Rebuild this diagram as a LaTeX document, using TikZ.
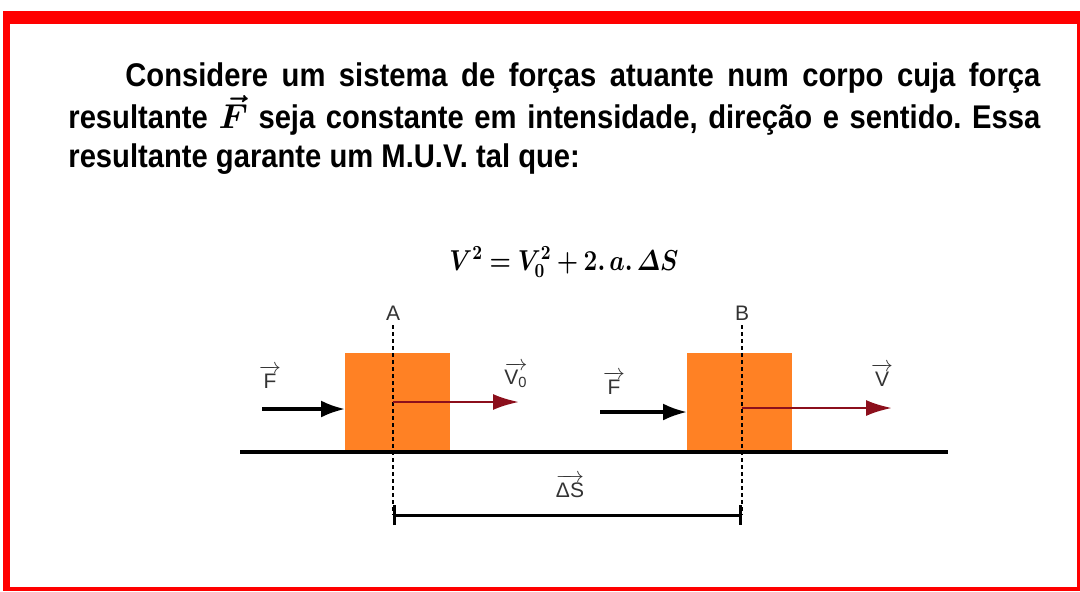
\documentclass[tikz,border=0pt]{standalone}
\usepackage{amsmath}
\usepackage{bm}
\usepackage[no-math]{fontspec}
\setmainfont{Liberation Sans}
\newfontfamily\bodyfont[FakeStretch=0.89]{Liberation Sans}
\usetikzlibrary{arrows.meta,positioning}
\definecolor{blockorange}{HTML}{FF8124}
\definecolor{velred}{HTML}{8C0F1C}
\newcommand{\eqsize}{\fontsize{14}{17}\selectfont}
\newcommand{\bodysize}{\fontsize{16.4}{19.5}\selectfont}
\newcommand{\lblsize}{\fontsize{10.5}{12}\selectfont}

\begin{document}
\frenchspacing
\begin{tikzpicture}[x=0.5pt,y=-0.5pt,
  lbl/.style={font=\lblsize,text=black!80,inner sep=1pt},
  block/.style={fill=blockorange,minimum width=52.5pt,minimum height=49.5pt,inner sep=0pt,anchor=south west},
  ground/.style={line width=2pt},
  guide/.style={line width=0.6pt,dash pattern=on 2pt off 1.5pt},
  force/.style={-{Latex[length=12pt,width=8.5pt]},line width=1.6pt},
  vel/.style={-{Latex[length=13pt,width=8pt]},line width=1.3pt,velred},
  dimline/.style={{Bar[width=10pt]}-{Bar[width=10pt]},line width=1.5pt}]
  % frame
  \useasboundingbox (0,0) rectangle (1080,591);
  \fill[red] (3,11) rectangle (1080,591);
  \fill[white] (10,24) rectangle (1077,587);
  % ground and blocks
  \coordinate (gl) at (240,452);
  \coordinate (gr) at (948,452);
  \node[block] (blockA) at (345,452) {};
  \node[block] (blockB) at (687,452) {};
  \draw[ground] (gl) -- (gr);
  % positions A and B
  \coordinate (Atop) at (393,325);
  \coordinate (Abot) at (393,515);
  \coordinate (Btop) at (742,325);
  \coordinate (Bbot) at (742,515);
  \draw[guide] (Atop) -- (Abot);
  \draw[guide] (Btop) -- (Bbot);
  \node[lbl,above=1pt of Atop] (labA) {A};
  \node[lbl,above=1pt of Btop] (labB) {B};
  % forces and velocities
  \coordinate (FA) at (262,409);
  \coordinate (FB) at (600,412);
  \coordinate (VA) at (393,402);
  \coordinate (VAend) at (519,402);
  \coordinate (VB) at (742,408);
  \coordinate (VBend) at (892,408);
  \draw[force] (FA) -- (FA -| blockA.west);
  \draw[force] (FB) -- (FB -| blockB.west);
  \draw[vel] (VA) -- (VAend);
  \draw[vel] (VB) -- (VBend);
  \node[lbl] (labFA) at (270,377) {$\overrightarrow{\text{F}}$};
  \node[lbl] (labFB) at (614,383) {$\overrightarrow{\text{F}}$};
  \node[lbl] (labVA) at (516,375) {$\overrightarrow{\text{V}_{\text{0}}}$};
  \node[lbl] (labVB) at (882,375) {$\overrightarrow{\text{V}}$};
  % displacement
  \draw[dimline] (Abot) -- (Bbot);
  \node[lbl] (labS) at (570,486) {$\overrightarrow{\text{ΔS}}$};
  % statement
  \node[anchor=north west,inner sep=0pt,text width=486pt,align=justify,font=\bodyfont\bfseries\bodysize] (txt) at (68,62) {\hspace*{28.5pt}Considere um sistema de forças atuante num corpo cuja força\linebreak resultante $\bm{\vec{F}}$ seja constante em intensidade, direção e sentido. Essa\linebreak resultante garante um M.U.V. tal que:};
  \node[font=\eqsize] (eq) at (564,262) {\scalebox{0.85}[1]{$\bm{V^{2}=V_{0}^{2}+2.\,a.\,\varDelta S}$}};
\end{tikzpicture}
\end{document}
